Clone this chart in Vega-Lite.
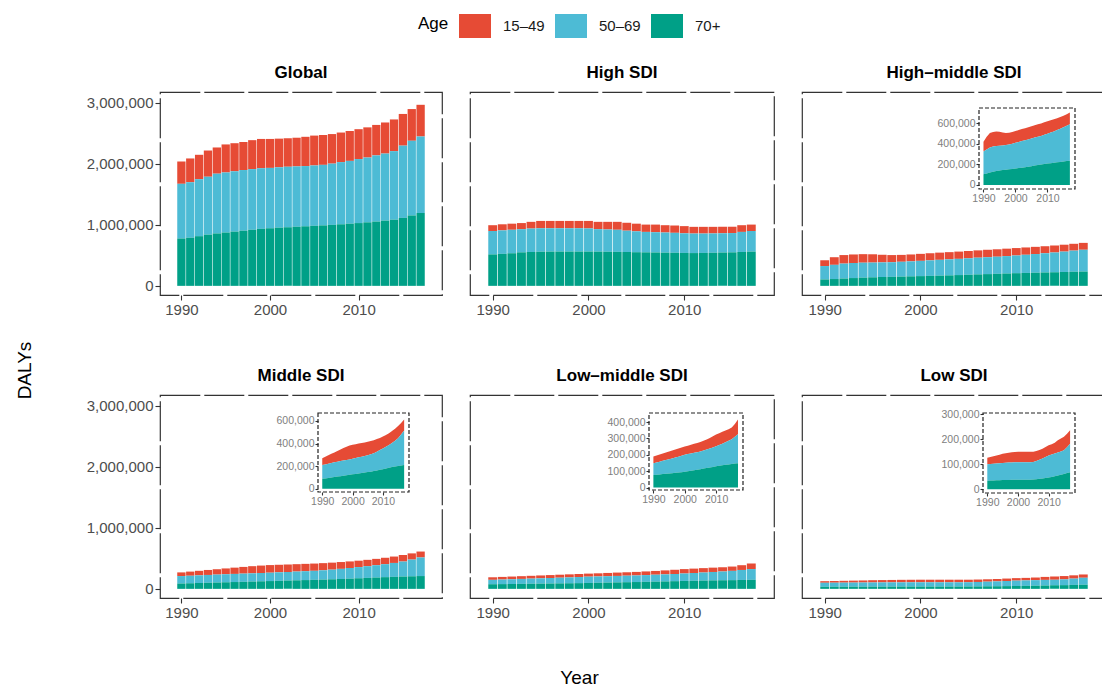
{
  "$schema": "https://vega.github.io/schema/vega-lite/v6.json",
  "padding": {"left": 14, "top": 10, "right": 0, "bottom": 0},
  "config": {
    "font": "Liberation Sans",
    "view": {"stroke": "#333333", "strokeDash": [40, 4], "strokeWidth": 1.2},
    "axis": {"labelFont": "Liberation Sans", "labelFontSize": 15, "labelColor": "#4d4d4d", "tickColor": "#333333", "tickSize": 5, "tickWidth": 1.1, "labelPadding": 2, "domain": false, "grid": false, "titleFont": "Liberation Sans", "titleFontWeight": "normal", "titleColor": "#000000", "titleFontSize": 19},
    "title": {"font": "Liberation Sans", "fontSize": 17, "fontWeight": "bold", "color": "#000000", "anchor": "middle", "offset": 10},
    "legend": {"orient": "none", "legendX": 258, "legendY": -82, "direction": "horizontal", "titleOrient": "left", "titleFontSize": 17, "titleFontWeight": "normal", "titleColor": "#000000", "titlePadding": 10, "titleAnchor": "middle", "titleBaseline": "middle", "labelFontSize": 15, "labelColor": "#1a1a1a", "labelOffset": 12, "columnPadding": 10, "symbolType": "M-1,-0.75H1V0.75H-1Z", "symbolSize": 1024, "symbolStrokeWidth": 0, "symbolOpacity": 1, "padding": 0}
  },
  "data": {"values": [
    {"r":"Global","Year":1990,"15–49":366000,"50–69":897000,"70+":777000},
    {"r":"Global","Year":1991,"15–49":390000,"50–69":910000,"70+":790000},
    {"r":"Global","Year":1992,"15–49":400000,"50–69":935000,"70+":815000},
    {"r":"Global","Year":1993,"15–49":430000,"50–69":950000,"70+":840000},
    {"r":"Global","Year":1994,"15–49":430000,"50–69":980000,"70+":860000},
    {"r":"Global","Year":1995,"15–49":460000,"50–69":985000,"70+":875000},
    {"r":"Global","Year":1996,"15–49":460000,"50–69":990000,"70+":890000},
    {"r":"Global","Year":1997,"15–49":460000,"50–69":995000,"70+":905000},
    {"r":"Global","Year":1998,"15–49":475000,"50–69":995000,"70+":920000},
    {"r":"Global","Year":1999,"15–49":480000,"50–69":995000,"70+":935000},
    {"r":"Global","Year":2000,"15–49":475000,"50–69":990000,"70+":945000},
    {"r":"Global","Year":2001,"15–49":470000,"50–69":990000,"70+":955000},
    {"r":"Global","Year":2002,"15–49":465000,"50–69":993000,"70+":962000},
    {"r":"Global","Year":2003,"15–49":470000,"50–69":990000,"70+":970000},
    {"r":"Global","Year":2004,"15–49":480000,"50–69":988000,"70+":977000},
    {"r":"Global","Year":2005,"15–49":490000,"50–69":990000,"70+":985000},
    {"r":"Global","Year":2006,"15–49":490000,"50–69":993000,"70+":992000},
    {"r":"Global","Year":2007,"15–49":485000,"50–69":1005000,"70+":1000000},
    {"r":"Global","Year":2008,"15–49":485000,"50–69":1020000,"70+":1010000},
    {"r":"Global","Year":2009,"15–49":490000,"50–69":1030000,"70+":1020000},
    {"r":"Global","Year":2010,"15–49":490000,"50–69":1050000,"70+":1030000},
    {"r":"Global","Year":2011,"15–49":495000,"50–69":1063000,"70+":1042000},
    {"r":"Global","Year":2012,"15–49":500000,"50–69":1085000,"70+":1055000},
    {"r":"Global","Year":2013,"15–49":510000,"50–69":1100000,"70+":1070000},
    {"r":"Global","Year":2014,"15–49":520000,"50–69":1125000,"70+":1085000},
    {"r":"Global","Year":2015,"15–49":520000,"50–69":1185000,"70+":1115000},
    {"r":"Global","Year":2016,"15–49":520000,"50–69":1225000,"70+":1155000},
    {"r":"Global","Year":2017,"15–49":520000,"50–69":1255000,"70+":1195000},
    {"r":"High SDI","Year":1990,"15–49":95000,"50–69":384000,"70+":516000},
    {"r":"High SDI","Year":1991,"15–49":100000,"50–69":385000,"70+":525000},
    {"r":"High SDI","Year":1992,"15–49":100000,"50–69":385000,"70+":535000},
    {"r":"High SDI","Year":1993,"15–49":100000,"50–69":380000,"70+":550000},
    {"r":"High SDI","Year":1994,"15–49":110000,"50–69":385000,"70+":555000},
    {"r":"High SDI","Year":1995,"15–49":120000,"50–69":385000,"70+":560000},
    {"r":"High SDI","Year":1996,"15–49":120000,"50–69":383000,"70+":562000},
    {"r":"High SDI","Year":1997,"15–49":120000,"50–69":382000,"70+":563000},
    {"r":"High SDI","Year":1998,"15–49":120000,"50–69":382000,"70+":563000},
    {"r":"High SDI","Year":1999,"15–49":120000,"50–69":382000,"70+":563000},
    {"r":"High SDI","Year":2000,"15–49":123000,"50–69":379000,"70+":563000},
    {"r":"High SDI","Year":2001,"15–49":120000,"50–69":368000,"70+":562000},
    {"r":"High SDI","Year":2002,"15–49":125000,"50–69":365000,"70+":560000},
    {"r":"High SDI","Year":2003,"15–49":130000,"50–69":362000,"70+":558000},
    {"r":"High SDI","Year":2004,"15–49":130000,"50–69":350000,"70+":555000},
    {"r":"High SDI","Year":2005,"15–49":125000,"50–69":343000,"70+":552000},
    {"r":"High SDI","Year":2006,"15–49":120000,"50–69":335000,"70+":550000},
    {"r":"High SDI","Year":2007,"15–49":125000,"50–69":332000,"70+":548000},
    {"r":"High SDI","Year":2008,"15–49":120000,"50–69":330000,"70+":545000},
    {"r":"High SDI","Year":2009,"15–49":120000,"50–69":327000,"70+":543000},
    {"r":"High SDI","Year":2010,"15–49":118000,"50–69":322000,"70+":540000},
    {"r":"High SDI","Year":2011,"15–49":110000,"50–69":320000,"70+":538000},
    {"r":"High SDI","Year":2012,"15–49":110000,"50–69":318000,"70+":540000},
    {"r":"High SDI","Year":2013,"15–49":108000,"50–69":317000,"70+":543000},
    {"r":"High SDI","Year":2014,"15–49":106000,"50–69":316000,"70+":546000},
    {"r":"High SDI","Year":2015,"15–49":104000,"50–69":316000,"70+":550000},
    {"r":"High SDI","Year":2016,"15–49":110000,"50–69":329000,"70+":556000},
    {"r":"High SDI","Year":2017,"15–49":105000,"50–69":338000,"70+":562000},
    {"r":"High-middle SDI","Year":1990,"15–49":95000,"50–69":220000,"70+":105000},
    {"r":"High-middle SDI","Year":1991,"15–49":125000,"50–69":233000,"70+":112000},
    {"r":"High-middle SDI","Year":1992,"15–49":140000,"50–69":245000,"70+":120000},
    {"r":"High-middle SDI","Year":1993,"15–49":140000,"50–69":247000,"70+":128000},
    {"r":"High-middle SDI","Year":1994,"15–49":140000,"50–69":245000,"70+":135000},
    {"r":"High-middle SDI","Year":1995,"15–49":136000,"50–69":242000,"70+":140000},
    {"r":"High-middle SDI","Year":1996,"15–49":125000,"50–69":240000,"70+":145000},
    {"r":"High-middle SDI","Year":1997,"15–49":117000,"50–69":240000,"70+":148000},
    {"r":"High-middle SDI","Year":1998,"15–49":113000,"50–69":243000,"70+":152000},
    {"r":"High-middle SDI","Year":1999,"15–49":113000,"50–69":246000,"70+":156000},
    {"r":"High-middle SDI","Year":2000,"15–49":115000,"50–69":250000,"70+":160000},
    {"r":"High-middle SDI","Year":2001,"15–49":117000,"50–69":254000,"70+":164000},
    {"r":"High-middle SDI","Year":2002,"15–49":118000,"50–69":259000,"70+":168000},
    {"r":"High-middle SDI","Year":2003,"15–49":118000,"50–69":263000,"70+":172000},
    {"r":"High-middle SDI","Year":2004,"15–49":119000,"50–69":266000,"70+":177000},
    {"r":"High-middle SDI","Year":2005,"15–49":120000,"50–69":270000,"70+":182000},
    {"r":"High-middle SDI","Year":2006,"15–49":120000,"50–69":274000,"70+":188000},
    {"r":"High-middle SDI","Year":2007,"15–49":122000,"50–69":277000,"70+":193000},
    {"r":"High-middle SDI","Year":2008,"15–49":122000,"50–69":280000,"70+":198000},
    {"r":"High-middle SDI","Year":2009,"15–49":122000,"50–69":285000,"70+":203000},
    {"r":"High-middle SDI","Year":2010,"15–49":122000,"50–69":290000,"70+":208000},
    {"r":"High-middle SDI","Year":2011,"15–49":120000,"50–69":298000,"70+":212000},
    {"r":"High-middle SDI","Year":2012,"15–49":118000,"50–69":306000,"70+":216000},
    {"r":"High-middle SDI","Year":2013,"15–49":115000,"50–69":315000,"70+":220000},
    {"r":"High-middle SDI","Year":2014,"15–49":114000,"50–69":324000,"70+":224000},
    {"r":"High-middle SDI","Year":2015,"15–49":113000,"50–69":334000,"70+":228000},
    {"r":"High-middle SDI","Year":2016,"15–49":112000,"50–69":346000,"70+":232000},
    {"r":"High-middle SDI","Year":2017,"15–49":113000,"50–69":357000,"70+":235000},
    {"r":"Middle SDI","Year":1990,"15–49":60000,"50–69":122000,"70+":88000},
    {"r":"Middle SDI","Year":1991,"15–49":68000,"50–69":123000,"70+":92000},
    {"r":"Middle SDI","Year":1992,"15–49":74000,"50–69":126000,"70+":96000},
    {"r":"Middle SDI","Year":1993,"15–49":82000,"50–69":128000,"70+":100000},
    {"r":"Middle SDI","Year":1994,"15–49":88000,"50–69":130000,"70+":104000},
    {"r":"Middle SDI","Year":1995,"15–49":95000,"50–69":132000,"70+":108000},
    {"r":"Middle SDI","Year":1996,"15–49":103000,"50–69":133000,"70+":112000},
    {"r":"Middle SDI","Year":1997,"15–49":110000,"50–69":134000,"70+":116000},
    {"r":"Middle SDI","Year":1998,"15–49":117000,"50–69":135000,"70+":120000},
    {"r":"Middle SDI","Year":1999,"15–49":122000,"50–69":136000,"70+":124000},
    {"r":"Middle SDI","Year":2000,"15–49":125000,"50–69":137000,"70+":128000},
    {"r":"Middle SDI","Year":2001,"15–49":123000,"50–69":140000,"70+":132000},
    {"r":"Middle SDI","Year":2002,"15–49":122000,"50–69":142000,"70+":136000},
    {"r":"Middle SDI","Year":2003,"15–49":121000,"50–69":144000,"70+":140000},
    {"r":"Middle SDI","Year":2004,"15–49":120000,"50–69":146000,"70+":144000},
    {"r":"Middle SDI","Year":2005,"15–49":119000,"50–69":148000,"70+":148000},
    {"r":"Middle SDI","Year":2006,"15–49":117000,"50–69":153000,"70+":152000},
    {"r":"Middle SDI","Year":2007,"15–49":115000,"50–69":158000,"70+":157000},
    {"r":"Middle SDI","Year":2008,"15–49":112000,"50–69":166000,"70+":162000},
    {"r":"Middle SDI","Year":2009,"15–49":108000,"50–69":174000,"70+":168000},
    {"r":"Middle SDI","Year":2010,"15–49":105000,"50–69":183000,"70+":174000},
    {"r":"Middle SDI","Year":2011,"15–49":104000,"50–69":192000,"70+":180000},
    {"r":"Middle SDI","Year":2012,"15–49":104000,"50–69":202000,"70+":186000},
    {"r":"Middle SDI","Year":2013,"15–49":105000,"50–69":213000,"70+":192000},
    {"r":"Middle SDI","Year":2014,"15–49":105000,"50–69":228000,"70+":197000},
    {"r":"Middle SDI","Year":2015,"15–49":107000,"50–69":246000,"70+":202000},
    {"r":"Middle SDI","Year":2016,"15–49":102000,"50–69":274000,"70+":206000},
    {"r":"Middle SDI","Year":2017,"15–49":97000,"50–69":305000,"70+":210000},
    {"r":"Low-middle SDI","Year":1990,"15–49":42000,"50–69":72000,"70+":76000},
    {"r":"Low-middle SDI","Year":1991,"15–49":43000,"50–69":75000,"70+":78000},
    {"r":"Low-middle SDI","Year":1992,"15–49":44000,"50–69":78000,"70+":80000},
    {"r":"Low-middle SDI","Year":1993,"15–49":45000,"50–69":81000,"70+":82000},
    {"r":"Low-middle SDI","Year":1994,"15–49":46000,"50–69":84000,"70+":84000},
    {"r":"Low-middle SDI","Year":1995,"15–49":47000,"50–69":87000,"70+":86000},
    {"r":"Low-middle SDI","Year":1996,"15–49":48000,"50–69":90000,"70+":88000},
    {"r":"Low-middle SDI","Year":1997,"15–49":49000,"50–69":93000,"70+":90000},
    {"r":"Low-middle SDI","Year":1998,"15–49":50000,"50–69":96000,"70+":92000},
    {"r":"Low-middle SDI","Year":1999,"15–49":50000,"50–69":100000,"70+":94000},
    {"r":"Low-middle SDI","Year":2000,"15–49":50000,"50–69":103000,"70+":97000},
    {"r":"Low-middle SDI","Year":2001,"15–49":51000,"50–69":104000,"70+":100000},
    {"r":"Low-middle SDI","Year":2002,"15–49":53000,"50–69":105000,"70+":103000},
    {"r":"Low-middle SDI","Year":2003,"15–49":55000,"50–69":106000,"70+":106000},
    {"r":"Low-middle SDI","Year":2004,"15–49":56000,"50–69":107000,"70+":109000},
    {"r":"Low-middle SDI","Year":2005,"15–49":58000,"50–69":108000,"70+":112000},
    {"r":"Low-middle SDI","Year":2006,"15–49":60000,"50–69":110000,"70+":116000},
    {"r":"Low-middle SDI","Year":2007,"15–49":62000,"50–69":113000,"70+":119000},
    {"r":"Low-middle SDI","Year":2008,"15–49":65000,"50–69":116000,"70+":122000},
    {"r":"Low-middle SDI","Year":2009,"15–49":69000,"50–69":118000,"70+":126000},
    {"r":"Low-middle SDI","Year":2010,"15–49":72000,"50–69":122000,"70+":130000},
    {"r":"Low-middle SDI","Year":2011,"15–49":72000,"50–69":127000,"70+":133000},
    {"r":"Low-middle SDI","Year":2012,"15–49":72000,"50–69":132000,"70+":136000},
    {"r":"Low-middle SDI","Year":2013,"15–49":71000,"50–69":138000,"70+":139000},
    {"r":"Low-middle SDI","Year":2014,"15–49":71000,"50–69":144000,"70+":141000},
    {"r":"Low-middle SDI","Year":2015,"15–49":71000,"50–69":152000,"70+":143000},
    {"r":"Low-middle SDI","Year":2016,"15–49":78000,"50–69":164000,"70+":146000},
    {"r":"Low-middle SDI","Year":2017,"15–49":91000,"50–69":177000,"70+":148000},
    {"r":"Low SDI","Year":1990,"15–49":26000,"50–69":66000,"70+":34000},
    {"r":"Low SDI","Year":1991,"15–49":28000,"50–69":66000,"70+":35000},
    {"r":"Low SDI","Year":1992,"15–49":30000,"50–69":67000,"70+":35000},
    {"r":"Low SDI","Year":1993,"15–49":32000,"50–69":67000,"70+":36000},
    {"r":"Low SDI","Year":1994,"15–49":34000,"50–69":68000,"70+":36000},
    {"r":"Low SDI","Year":1995,"15–49":37000,"50–69":68000,"70+":37000},
    {"r":"Low SDI","Year":1996,"15–49":38000,"50–69":69000,"70+":37000},
    {"r":"Low SDI","Year":1997,"15–49":39000,"50–69":70000,"70+":37000},
    {"r":"Low SDI","Year":1998,"15–49":41000,"50–69":69000,"70+":38000},
    {"r":"Low SDI","Year":1999,"15–49":41000,"50–69":70000,"70+":38000},
    {"r":"Low SDI","Year":2000,"15–49":42000,"50–69":70000,"70+":38000},
    {"r":"Low SDI","Year":2001,"15–49":42000,"50–69":70000,"70+":38000},
    {"r":"Low SDI","Year":2002,"15–49":42000,"50–69":70000,"70+":38000},
    {"r":"Low SDI","Year":2003,"15–49":42000,"50–69":70000,"70+":38000},
    {"r":"Low SDI","Year":2004,"15–49":42000,"50–69":70000,"70+":38000},
    {"r":"Low SDI","Year":2005,"15–49":41000,"50–69":70000,"70+":39000},
    {"r":"Low SDI","Year":2006,"15–49":40000,"50–69":73000,"70+":40000},
    {"r":"Low SDI","Year":2007,"15–49":39000,"50–69":76000,"70+":42000},
    {"r":"Low SDI","Year":2008,"15–49":39000,"50–69":80000,"70+":43000},
    {"r":"Low SDI","Year":2009,"15–49":40000,"50–69":84000,"70+":45000},
    {"r":"Low SDI","Year":2010,"15–49":41000,"50–69":88000,"70+":47000},
    {"r":"Low SDI","Year":2011,"15–49":41000,"50–69":90000,"70+":49000},
    {"r":"Low SDI","Year":2012,"15–49":43000,"50–69":91000,"70+":52000},
    {"r":"Low SDI","Year":2013,"15–49":49000,"50–69":92000,"70+":55000},
    {"r":"Low SDI","Year":2014,"15–49":52000,"50–69":93000,"70+":58000},
    {"r":"Low SDI","Year":2015,"15–49":54000,"50–69":95000,"70+":61000},
    {"r":"Low SDI","Year":2016,"15–49":54000,"50–69":103000,"70+":65000},
    {"r":"Low SDI","Year":2017,"15–49":54000,"50–69":114000,"70+":68000}
  ]},
  "transform": [{"fold": ["15–49", "50–69", "70+"], "as": ["Age", "v"]}],
  "columns": 3,
  "spacing": {"row": 100, "column": 28},
  "bounds": "flush",
  "align": "each",
  "concat": [
    {
      "title": "Global",
      "width": 282, "height": 203,
      "transform": [{"filter": {"field": "r", "equal": "Global"}}],
      "mark": {"type": "bar", "size": 8.3},
      "encoding": {
        "x": {"field": "Year", "type": "quantitative", "scale": {"domain": [1988.15, 2018.85], "nice": false, "zero": false}, "axis": {"values": [1990, 2000, 2010], "format": "d", "title": null}},
        "y": {"field": "v", "type": "quantitative", "stack": "zero", "scale": {"domain": [-150000, 3180000], "nice": false, "zero": false}, "axis": {"values": [0, 1000000, 2000000, 3000000], "format": ",.0f", "title": "DALYs", "titleX": -136, "titleY": 278, "titleAngle": -90, "titleAlign": "center", "titleBaseline": "middle"}},
        "color": {"field": "Age", "type": "nominal", "scale": {"domain": ["15–49", "50–69", "70+"], "range": ["#E64B35", "#4DBBD5", "#00A087"]}, "legend": {"title": "Age"}},
        "order": {"field": "Age", "sort": "descending"}
      }
    },
    {
      "title": "High SDI",
      "width": 304, "height": 203,
      "transform": [{"filter": {"field": "r", "equal": "High SDI"}}],
      "mark": {"type": "bar", "size": 8.9},
      "encoding": {
        "x": {"field": "Year", "type": "quantitative", "scale": {"domain": [1988.15, 2018.85], "nice": false, "zero": false}, "axis": {"values": [1990, 2000, 2010], "format": "d", "title": null}},
        "y": {"field": "v", "type": "quantitative", "stack": "zero", "scale": {"domain": [-150000, 3180000], "nice": false, "zero": false}, "axis": null},
        "color": {"field": "Age", "type": "nominal", "scale": {"domain": ["15–49", "50–69", "70+"], "range": ["#E64B35", "#4DBBD5", "#00A087"]}},
        "order": {"field": "Age", "sort": "descending"}
      }
    },
    {
      "title": "High–middle SDI",
      "width": 304, "height": 203,
      "transform": [{"filter": {"field": "r", "equal": "High-middle SDI"}}],
      "layer": [
        {
          "mark": {"type": "bar", "size": 8.9},
          "encoding": {
            "x": {"field": "Year", "type": "quantitative", "scale": {"domain": [1988.15, 2018.85], "nice": false, "zero": false}, "axis": {"values": [1990, 2000, 2010], "format": "d", "title": null}},
            "y": {"field": "v", "type": "quantitative", "stack": "zero", "scale": {"domain": [-150000, 3180000], "nice": false, "zero": false}, "axis": null},
            "color": {"field": "Age", "type": "nominal", "scale": {"domain": ["15–49", "50–69", "70+"], "range": ["#E64B35", "#4DBBD5", "#00A087"]}},
            "order": {"field": "Age", "sort": "descending"}
          }
        },
        {
          "layer": [
            {
              "mark": {"type": "area"},
              "encoding": {
                "x": {"field": "Year", "type": "quantitative", "scale": {"domain": [1988.6, 2018.6], "range": [177, 273], "nice": false, "zero": false}, "axis": {"orient": "bottom", "offset": -106, "values": [1990, 2000, 2010], "format": "d", "title": null, "labelFontSize": 10.5, "labelColor": "#808080", "tickSize": 3, "labelPadding": 1}},
                "y": {"field": "v", "type": "quantitative", "stack": "zero", "scale": {"domain": [-40000, 750000], "range": [97, 16], "nice": false, "zero": false}, "axis": {"orient": "left", "offset": -177, "values": [0, 200000, 400000, 600000], "format": ",.0f", "title": null, "labelFontSize": 10.5, "labelColor": "#808080", "tickSize": 3, "labelPadding": 1}},
                "color": {"field": "Age", "type": "nominal", "scale": {"domain": ["15–49", "50–69", "70+"], "range": ["#E64B35", "#4DBBD5", "#00A087"]}},
                "order": {"field": "Age", "sort": "descending"}
              }
            },
            {
              "transform": [{"aggregate": [{"op": "count", "as": "n"}]}],
              "mark": {"type": "rect", "fillOpacity": 0, "stroke": "#222222", "strokeWidth": 1.2, "strokeDash": [4, 2]},
              "encoding": {
                "x": {"datum": 1988.6, "type": "quantitative"},
                "x2": {"datum": 2018.6},
                "y": {"datum": -40000, "type": "quantitative"},
                "y2": {"datum": 750000}
              }
            }
          ]
        }
      ],
      "resolve": {"scale": {"x": "independent", "y": "independent"}}
    },
    {
      "title": "Middle SDI",
      "width": 282, "height": 203,
      "transform": [{"filter": {"field": "r", "equal": "Middle SDI"}}],
      "layer": [
        {
          "mark": {"type": "bar", "size": 8.3},
          "encoding": {
            "x": {"field": "Year", "type": "quantitative", "scale": {"domain": [1988.15, 2018.85], "nice": false, "zero": false}, "axis": {"values": [1990, 2000, 2010], "format": "d", "title": null}},
            "y": {"field": "v", "type": "quantitative", "stack": "zero", "scale": {"domain": [-150000, 3180000], "nice": false, "zero": false}, "axis": {"orient": "left", "values": [0, 1000000, 2000000, 3000000], "format": ",.0f", "title": null}},
            "color": {"field": "Age", "type": "nominal", "scale": {"domain": ["15–49", "50–69", "70+"], "range": ["#E64B35", "#4DBBD5", "#00A087"]}},
            "order": {"field": "Age", "sort": "descending"}
          }
        },
        {
          "layer": [
            {
              "mark": {"type": "area"},
              "encoding": {
                "x": {"field": "Year", "type": "quantitative", "scale": {"domain": [1988.6, 2018.6], "range": [158, 249], "nice": false, "zero": false}, "axis": {"orient": "bottom", "offset": -106, "values": [1990, 2000, 2010], "format": "d", "title": null, "labelFontSize": 10.5, "labelColor": "#808080", "tickSize": 3, "labelPadding": 1}},
                "y": {"field": "v", "type": "quantitative", "stack": "zero", "scale": {"domain": [-28000, 670000], "range": [97, 18], "nice": false, "zero": false}, "axis": {"orient": "left", "offset": -158, "values": [0, 200000, 400000, 600000], "format": ",.0f", "title": null, "labelFontSize": 10.5, "labelColor": "#808080", "tickSize": 3, "labelPadding": 1}},
                "color": {"field": "Age", "type": "nominal", "scale": {"domain": ["15–49", "50–69", "70+"], "range": ["#E64B35", "#4DBBD5", "#00A087"]}},
                "order": {"field": "Age", "sort": "descending"}
              }
            },
            {
              "transform": [{"aggregate": [{"op": "count", "as": "n"}]}],
              "mark": {"type": "rect", "fillOpacity": 0, "stroke": "#222222", "strokeWidth": 1.2, "strokeDash": [4, 2]},
              "encoding": {
                "x": {"datum": 1988.6, "type": "quantitative"},
                "x2": {"datum": 2018.6},
                "y": {"datum": -28000, "type": "quantitative"},
                "y2": {"datum": 670000}
              }
            }
          ]
        }
      ],
      "resolve": {"scale": {"x": "independent", "y": "independent"}}
    },
    {
      "title": "Low–middle SDI",
      "width": 304, "height": 203,
      "transform": [{"filter": {"field": "r", "equal": "Low-middle SDI"}}],
      "layer": [
        {
          "mark": {"type": "bar", "size": 8.9},
          "encoding": {
            "x": {"field": "Year", "type": "quantitative", "scale": {"domain": [1988.15, 2018.85], "nice": false, "zero": false}, "axis": {"orient": "bottom", "values": [1990, 2000, 2010], "format": "d", "title": "Year", "titleX": 109, "titleY": 79, "titleAlign": "center", "titleBaseline": "middle"}},
            "y": {"field": "v", "type": "quantitative", "stack": "zero", "scale": {"domain": [-150000, 3180000], "nice": false, "zero": false}, "axis": null},
            "color": {"field": "Age", "type": "nominal", "scale": {"domain": ["15–49", "50–69", "70+"], "range": ["#E64B35", "#4DBBD5", "#00A087"]}},
            "order": {"field": "Age", "sort": "descending"}
          }
        },
        {
          "layer": [
            {
              "mark": {"type": "area"},
              "encoding": {
                "x": {"field": "Year", "type": "quantitative", "scale": {"domain": [1988.6, 2018.6], "range": [179, 273], "nice": false, "zero": false}, "axis": {"orient": "bottom", "offset": -108, "values": [1990, 2000, 2010], "format": "d", "title": null, "labelFontSize": 10.5, "labelColor": "#808080", "tickSize": 3, "labelPadding": 1}},
                "y": {"field": "v", "type": "quantitative", "stack": "zero", "scale": {"domain": [-15000, 455000], "range": [95, 18], "nice": false, "zero": false}, "axis": {"orient": "left", "offset": -179, "values": [0, 100000, 200000, 300000, 400000], "format": ",.0f", "title": null, "labelFontSize": 10.5, "labelColor": "#808080", "tickSize": 3, "labelPadding": 1}},
                "color": {"field": "Age", "type": "nominal", "scale": {"domain": ["15–49", "50–69", "70+"], "range": ["#E64B35", "#4DBBD5", "#00A087"]}},
                "order": {"field": "Age", "sort": "descending"}
              }
            },
            {
              "transform": [{"aggregate": [{"op": "count", "as": "n"}]}],
              "mark": {"type": "rect", "fillOpacity": 0, "stroke": "#222222", "strokeWidth": 1.2, "strokeDash": [4, 2]},
              "encoding": {
                "x": {"datum": 1988.6, "type": "quantitative"},
                "x2": {"datum": 2018.6},
                "y": {"datum": -15000, "type": "quantitative"},
                "y2": {"datum": 455000}
              }
            }
          ]
        }
      ],
      "resolve": {"scale": {"x": "independent", "y": "independent"}}
    },
    {
      "title": "Low SDI",
      "width": 304, "height": 203,
      "transform": [{"filter": {"field": "r", "equal": "Low SDI"}}],
      "layer": [
        {
          "mark": {"type": "bar", "size": 8.9},
          "encoding": {
            "x": {"field": "Year", "type": "quantitative", "scale": {"domain": [1988.15, 2018.85], "nice": false, "zero": false}, "axis": {"orient": "bottom", "values": [1990, 2000, 2010], "format": "d", "title": null}},
            "y": {"field": "v", "type": "quantitative", "stack": "zero", "scale": {"domain": [-150000, 3180000], "nice": false, "zero": false}, "axis": null},
            "color": {"field": "Age", "type": "nominal", "scale": {"domain": ["15–49", "50–69", "70+"], "range": ["#E64B35", "#4DBBD5", "#00A087"]}},
            "order": {"field": "Age", "sort": "descending"}
          }
        },
        {
          "layer": [
            {
              "mark": {"type": "area"},
              "encoding": {
                "x": {"field": "Year", "type": "quantitative", "scale": {"domain": [1988.6, 2018.6], "range": [181, 273], "nice": false, "zero": false}, "axis": {"orient": "bottom", "offset": -105, "values": [1990, 2000, 2010], "format": "d", "title": null, "labelFontSize": 10.5, "labelColor": "#808080", "tickSize": 3, "labelPadding": 1}},
                "y": {"field": "v", "type": "quantitative", "stack": "zero", "scale": {"domain": [-15000, 305000], "range": [98, 18], "nice": false, "zero": false}, "axis": {"orient": "left", "offset": -181, "values": [0, 100000, 200000, 300000], "format": ",.0f", "title": null, "labelFontSize": 10.5, "labelColor": "#808080", "tickSize": 3, "labelPadding": 1}},
                "color": {"field": "Age", "type": "nominal", "scale": {"domain": ["15–49", "50–69", "70+"], "range": ["#E64B35", "#4DBBD5", "#00A087"]}},
                "order": {"field": "Age", "sort": "descending"}
              }
            },
            {
              "transform": [{"aggregate": [{"op": "count", "as": "n"}]}],
              "mark": {"type": "rect", "fillOpacity": 0, "stroke": "#222222", "strokeWidth": 1.2, "strokeDash": [4, 2]},
              "encoding": {
                "x": {"datum": 1988.6, "type": "quantitative"},
                "x2": {"datum": 2018.6},
                "y": {"datum": -15000, "type": "quantitative"},
                "y2": {"datum": 305000}
              }
            }
          ]
        }
      ],
      "resolve": {"scale": {"x": "independent", "y": "independent"}}
    }
  ]
}
